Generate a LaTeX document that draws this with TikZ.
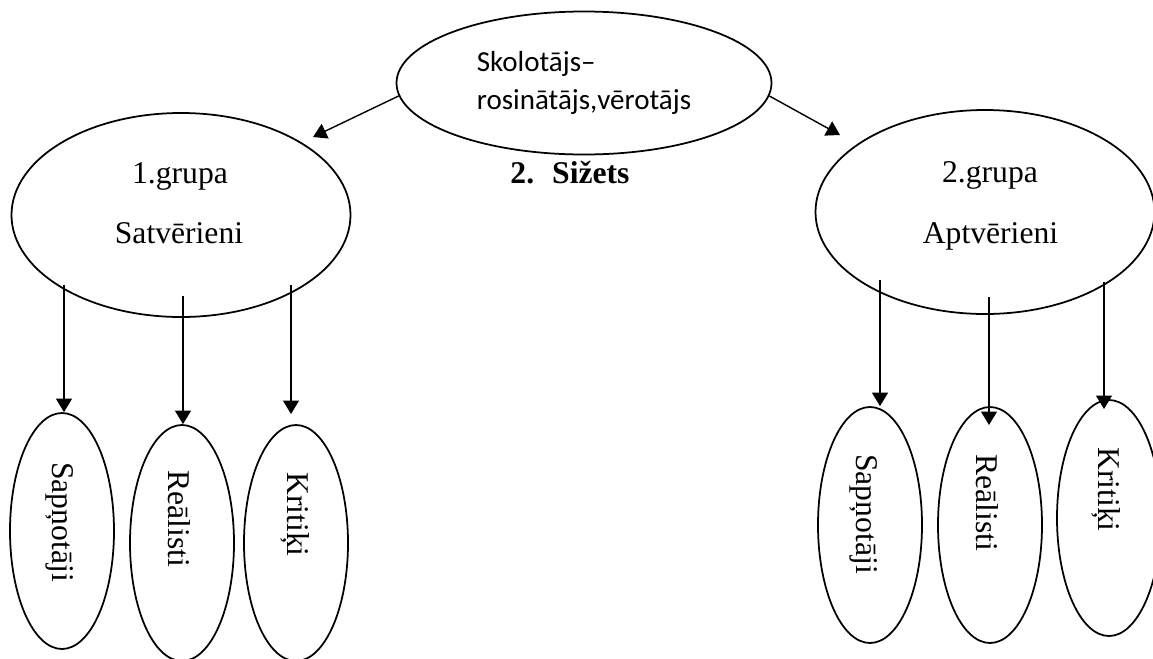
\documentclass[tikz,border=0pt]{standalone}
\usepackage{fontspec}
\setmainfont{Liberation Serif}
\newfontfamily\calibfont{Carlito}
\usetikzlibrary{shapes.geometric,arrows.meta}
\tikzset{
  oval/.style={draw, ellipse, line width=1pt, inner sep=0pt},
  bigoval/.style={oval, minimum width=6.78cm, minimum height=4.08cm},
  smalloval/.style={oval, minimum width=2.08cm, minimum height=4.72cm},
  arr/.style={line width=0.8pt, -{Triangle[length=0.27cm,width=0.32cm]}},
  lbl/.style={font=\fontsize{18}{20}\selectfont, inner sep=0pt, anchor=base},
  vlbl/.style={font=\fontsize{18}{20}\selectfont, inner sep=0pt, rotate=-90, anchor=west},
}
\begin{document}
\begin{tikzpicture}
  \useasboundingbox (0,0) rectangle (23.06,-13.16);

  % Teacher in the middle
  \node[oval, minimum width=7.5cm, minimum height=2.86cm, align=left,
        font=\calibfont\fontsize{16.5}{21.5}\selectfont] (skol) at (11.68,-1.66)
        {Skolotājs–\\rosinātājs,vērotājs};
  \node[lbl, font=\bfseries\fontsize{18}{20}\selectfont] (sizets) at (11.4,-3.66)
        {2.\hspace{0.36cm}Sižets};

  % Group 1
  \node[bigoval] (g1) at (3.62,-4.30) {};
  \node[lbl] (g1a) at (3.6,-3.66) {1.grupa};
  \node[lbl] (g1b) at (3.58,-4.86) {Satvērieni};

  % Group 2
  \node[bigoval] (g2) at (19.70,-4.24) {};
  \node[lbl] (g2a) at (19.8,-3.64) {2.grupa};
  \node[lbl] (g2b) at (19.81,-4.86) {Aptvērieni};

  % Arrows from the teacher
  \coordinate (t1) at (6.26,-2.74);
  \coordinate (t2) at (16.8,-2.70);
  \draw[arr] (skol.184) -- (t1);
  \draw[arr] (skol.-4) -- (t2);

  % Roles of group 1
  \node[smalloval] (s1) at (1.24,-10.62) {};
  \node[smalloval] (r1) at (3.64,-10.86) {};
  \node[smalloval] (k1) at (5.92,-10.86) {};
  \node[vlbl] (s1t) at (1.19,-9.24) {Sapņotāji};
  \node[vlbl] (r1t) at (3.59,-9.40) {Reālisti};
  \node[vlbl] (k1t) at (5.90,-9.44) {Kritiķi};

  % Roles of group 2
  \node[smalloval] (s2) at (17.4,-10.5) {};
  \node[smalloval] (r2) at (19.8,-10.5) {};
  \node[smalloval] (k2) at (22.18,-10.36) {};
  \node[vlbl] (s2t) at (17.28,-9.08) {Sapņotāji};
  \node[vlbl] (r2t) at (19.75,-9.08) {Reālisti};
  \node[vlbl] (k2t) at (22.12,-8.94) {Kritiķi};

  % Arrows down to the roles
  \coordinate (a1) at (1.28,-5.70);
  \coordinate (a2) at (3.66,-5.92);
  \coordinate (a3) at (5.82,-5.70);
  \coordinate (a3e) at (5.82,-8.28);
  \draw[arr] (a1) -- (a1 |- s1.north);
  \draw[arr] (a2) -- (a2 |- r1.north);
  \draw[arr] (a3) -- (a3e);

  \coordinate (b1) at (17.6,-5.60);
  \coordinate (b2) at (19.78,-5.94);
  \coordinate (b2e) at (19.78,-8.50);
  \coordinate (b3) at (22.08,-5.64);
  \coordinate (b3e) at (22.08,-8.18);
  \draw[arr] (b1) -- (b1 |- s2.north);
  \draw[arr] (b2) -- (b2e);
  \draw[arr] (b3) -- (b3e);
\end{tikzpicture}
\end{document}
